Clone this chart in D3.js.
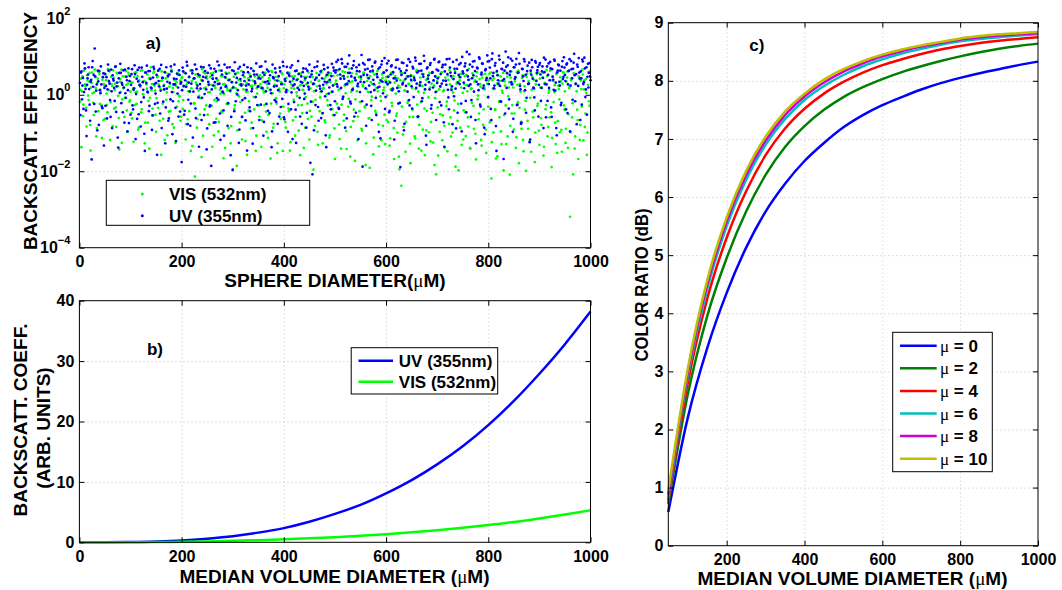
<!DOCTYPE html>
<html>
<head>
<meta charset="utf-8">
<script src="https://cdn.jsdelivr.net/npm/d3@7"></script>
<style>
body { margin: 0; background: #fff; }
svg text { font-family: "Liberation Sans", Arial, sans-serif; font-weight: bold; fill: #000; }
</style>
</head>
<body>
<script>
// ---- panel a) backscatter efficiency of single spheres (log10 values) ----
// even diameters 2..1000 and odd diameters 1..999
const diamEvenA = d3.range(2, 1001, 2);
const diamOddA = d3.range(1, 1000, 2);
const visExpEvenA = [
  0.13,-1.37,0.48,-0.26,0.68,0.22,-0.83,0.37,-0.14,0.57,-1.46,0.31,0.04,-0.53,0.66,0.18,-0.87,0.42,0.59,-0.24,0.07,-1.13,0.46,0.28,-0.63,
  0.38,-0.27,0.67,0.12,-1.18,0.47,0.23,0.64,-0.36,0.29,-0.84,0.56,-0.03,-1.43,0.41,0.66,-0.12,0.17,-0.58,0.48,0.26,-0.97,0.57,-0.18,0.08,
  -0.47,0.32,-1.23,0.57,0.06,-0.24,0.49,-0.86,0.27,0.63,-0.38,0.02,0.36,-1.27,0.58,0.16,-0.73,0.43,-0.08,0.72,0.28,-0.54,0.61,0.11,-0.97,
  0.46,-0.34,0.64,0.18,-1.57,0.37,-0.63,0.26,0.58,-0.13,-1.06,0.47,0.21,-0.43,0.66,-0.77,0.07,0.38,-1.26,0.33,0.57,-0.17,-0.04,-0.68,0.44,
  -0.37,0.21,0.58,-1.17,0.27,-0.64,0.46,0.08,-1.47,0.36,0.63,-0.23,-2.14,0.32,-0.86,0.48,-0.03,-0.52,0.39,0.67,-1.07,0.17,0.56,-0.28,0.42,
  0.06,-0.77,0.47,0.26,-1.36,0.57,-0.14,0.18,-0.63,0.37,-0.96,0.64,0.03,-0.43,0.49,-1.66,0.28,0.58,-0.24,0.12,-0.87,0.39,-1.27,0.16,-1.98,
  0.47,-0.28,0.17,-1.86,0.58,-0.04,-0.73,0.36,-1.17,0.27,0.57,-0.47,0.08,-1.57,0.42,-0.17,0.46,-0.88,0.23,0.63,-0.38,0.27,-1.07,0.03,0.48,
  -0.57,0.28,-1.36,0.46,0.13,-0.27,0.57,-0.97,0.18,-0.53,0.37,-1.67,0.62,0.04,-0.76,0.26,0.47,-0.23,-1.27,0.36,0.08,-0.63,0.56,-1.47,0.17,
  0.37,-0.86,0.07,0.57,-0.43,-1.46,0.28,0.48,-0.67,0.16,-1.07,0.38,-0.03,-0.27,0.56,-1.58,0.26,-0.48,0.12,0.47,-0.86,0.27,-0.23,0.58,-1.17,
  0.17,-0.57,0.46,-1.96,0.28,-0.13,0.57,-0.97,0.36,-0.43,0.08,0.63,-1.27,0.18,-0.67,0.47,0.02,-0.28,0.37,-1.06,0.56,0.07,-0.53,0.26,-1.68,
  0.37,-0.23,0.64,-0.78,0.15,-1.41,0.49,-0.04,-0.52,0.59,-0.95,0.26,-0.31,0.68,-1.62,0.08,0.35,-0.69,0.44,-0.12,0.55,-1.19,0.21,-0.43,0.48,
  -0.89,0.26,0.58,-0.31,-1.84,0.14,0.45,-0.62,-1.91,0.33,-0.05,0.59,-1.12,0.25,-0.48,0.51,0.09,-1.35,0.39,-0.16,0.54,-0.81,0.19,-1.29,0.46,
  -0.02,-0.71,0.35,-1.14,0.58,-0.29,0.15,-1.68,0.49,-0.55,-0.99,0.24,-1.95,0.38,-2.38,0.56,-0.84,0.11,-1.49,0.45,-0.21,0.29,-0.58,-1.79,0.36,
  -0.39,0.48,-1.09,0.15,0.65,-0.59,-1.41,0.28,-0.19,0.55,-0.91,0.05,-1.58,0.39,-0.42,0.49,-0.98,0.19,-0.71,0.58,-1.25,0.24,-0.09,-2.08,0.35,
  -1.59,0.14,-0.51,0.58,-1.19,0.09,-0.81,0.45,-0.29,-1.48,0.39,0.65,-0.59,0.18,-0.99,0.49,-0.15,-1.88,0.29,-0.68,-1.98,0.38,0.55,-1.31,0.05,
  -0.41,0.49,-1.08,0.25,-0.59,0.68,-1.39,0.15,-0.21,0.45,-0.89,0.38,-1.69,0.59,-0.02,-0.49,0.28,-1.18,0.45,-0.79,0.19,0.55,-1.52,0.29,-0.31,
  0.55,-0.69,-2.19,0.38,-0.99,0.15,-0.39,0.59,-1.61,0.25,-0.59,0.48,-1.29,0.05,-1.98,0.35,-0.28,0.58,-1.09,0.19,-2.09,0.45,-0.49,0.28,-0.91,
  0.35,-1.39,0.59,-0.19,-1.79,0.28,-0.71,0.44,-1.18,0.09,-0.39,-1.99,0.55,-0.89,0.29,-0.08,-1.49,0.48,-0.59,0.15,-0.99,0.38,-0.29,0.58,-1.31,
  0.19,-0.79,0.45,-1.59,0.29,-0.38,0.65,-1.09,0.05,-0.59,0.38,-1.89,0.48,-0.19,0.25,-1.29,0.58,-0.69,0.15,-0.98,0.35,-1.49,0.59,-0.28,0.09,
  -0.89,0.45,-1.39,0.18,-3.19,0.38,-0.59,-2.08,0.55,-1.09,0.28,-0.39,-1.68,0.45,-0.79,0.15,0.66,-1.19,0.38,-0.49,0.05,-0.99,0.59,-0.29,0.45
];
const visExpOddA = [
  -0.18,0.42,0.09,-0.56,0.63,0.27,-0.34,0.51,-0.02,0.35,-0.79,0.19,0.58,-0.21,0.06,0.46,-1.09,0.31,-0.43,0.54,0.13,-0.27,0.39,-0.66,0.24,
  0.52,0.03,-0.46,0.37,0.61,-0.19,0.28,-0.82,0.44,0.12,-0.33,0.57,0.22,-0.61,0.34,0.07,-1.26,0.48,0.18,-0.08,0.62,-0.41,0.29,0.51,-0.14,
  0.33,-0.62,0.16,0.47,-0.27,0.59,0.08,-0.91,0.38,0.21,-0.46,0.64,0.01,0.36,-0.73,0.27,0.53,-0.16,-1.41,0.44,0.12,-0.36,0.57,0.24,-0.52,
  -0.09,0.49,0.27,-0.68,0.36,0.61,-0.23,0.14,-1.18,0.43,0.06,0.55,-0.44,0.29,-0.13,0.62,0.18,-0.86,0.41,0.23,-0.31,0.52,-0.03,0.37,-0.57,
  0.46,-0.14,0.58,0.22,-0.77,0.34,0.09,-0.43,0.63,0.17,-1.34,0.41,-0.22,0.53,0.28,-0.64,0.11,0.47,-0.09,-1.63,0.36,0.59,-0.38,0.19,0.48,
  -0.52,0.31,0.07,0.56,-0.29,0.42,-1.06,0.24,0.61,-0.17,0.38,-0.71,0.13,0.49,-0.46,0.27,0.02,-1.39,0.44,0.18,-0.24,0.57,0.09,-0.82,0.33,
  0.21,-0.37,0.53,0.04,-0.93,0.39,0.26,-0.19,0.62,-0.58,0.14,0.46,-1.21,0.31,0.08,-0.41,0.55,0.23,-0.73,0.37,-0.06,0.48,-1.47,0.17,0.42,
  -0.28,0.51,0.19,-0.67,0.34,0.06,0.57,-0.44,0.28,-1.13,0.43,0.12,-0.23,0.59,-0.86,0.21,0.38,-0.09,-1.52,0.46,0.16,-0.49,0.33,0.54,-0.31,
  0.27,-0.71,0.44,0.11,-0.36,0.57,-1.24,0.18,0.36,-0.13,0.49,-0.58,0.06,0.41,-0.94,0.24,0.55,-0.27,0.13,-1.39,0.38,-0.06,0.47,-0.63,0.21,
  -0.42,0.34,0.53,-0.18,0.09,-0.81,0.45,0.22,-1.31,0.37,-0.07,0.58,-0.49,0.16,0.41,-0.72,0.29,-0.14,0.52,-1.12,0.33,0.07,-0.37,0.49,-0.88,
  0.29,-0.47,0.51,0.13,-1.16,0.42,-0.26,0.61,-0.68,0.24,0.04,-1.42,0.47,-0.11,0.33,-0.84,0.56,0.18,-0.39,-1.73,0.38,0.09,-0.57,0.46,-0.19,
  0.41,-0.94,0.22,0.57,-0.33,-1.27,0.36,0.07,-0.61,0.49,-0.14,0.28,-1.56,0.53,-0.42,0.17,0.62,-0.78,0.31,-0.04,-1.19,0.44,0.12,-0.52,0.37,
  -0.66,0.26,0.48,-1.33,0.14,-0.21,0.55,-0.87,0.32,0.03,-0.49,0.43,-1.62,0.19,0.58,-0.31,-1.04,0.37,0.11,-0.71,0.49,-0.16,0.27,-1.28,0.52,
  0.18,-0.58,0.39,-1.14,0.61,-0.26,0.08,-0.79,0.45,-1.46,0.23,0.54,-0.36,0.14,-0.93,0.41,-0.07,0.57,-1.22,0.29,-0.47,0.36,-1.84,0.48,0.09,
  -0.33,0.46,-0.97,0.21,0.59,-0.54,0.12,-1.38,0.38,-0.18,0.51,-0.76,0.27,-1.09,0.44,0.06,-0.41,0.62,-1.58,0.33,-0.24,0.47,-0.86,0.19,0.55,
  -1.17,0.28,-0.46,0.52,0.09,-0.83,0.39,-1.41,0.17,0.56,-0.29,0.34,-1.02,0.48,-0.12,-0.64,0.41,0.21,-1.33,0.53,-0.38,0.14,-0.91,0.45,-0.07,
  0.37,-0.72,0.58,-1.24,0.16,0.43,-0.39,-1.67,0.29,0.52,-0.18,0.36,-0.96,0.11,0.57,-0.53,0.24,-1.29,0.47,-0.04,0.33,-0.81,0.61,-0.27,0.19,
  -0.49,0.44,-1.11,0.26,0.63,-0.34,0.08,-0.89,0.51,-1.48,0.22,-0.16,0.47,-0.68,0.35,-1.21,0.58,0.13,-0.44,0.39,-1.76,0.27,0.54,-0.23,-0.94,
  0.42,-0.61,0.18,0.57,-1.36,0.31,-0.27,0.49,-0.84,0.12,0.63,-0.46,-1.13,0.36,0.07,-0.73,0.54,-1.52,0.24,-0.12,0.46,-0.92,0.29,0.58,-0.39,
  -1.26,0.34,0.61,-0.51,0.19,-0.98,0.43,-0.22,0.56,-1.41,0.27,0.09,-0.66,0.48,-1.18,0.37,-0.31,0.53,0.14,-0.84,0.41,-1.57,0.26,-0.17,0.62
];
const uvExpEvenA = [
  -0.53,0.61,0.24,-0.37,0.82,0.15,-1.08,0.43,0.72,-0.26,0.34,-1.69,0.88,0.52,1.21,-0.44,0.27,0.63,-0.79,0.12,0.74,-0.31,0.46,-1.33,0.55,
  0.23,-0.62,0.79,0.35,-0.14,0.66,-0.87,0.41,0.18,0.73,-0.45,0.32,-1.38,0.57,0.81,-0.22,0.26,0.64,-0.73,0.04,0.47,-0.96,0.69,0.36,-0.52,
  0.54,-0.28,0.13,0.77,-1.16,0.42,0.65,-0.51,0.25,-0.83,0.71,0.33,-0.07,-1.47,0.58,0.76,0.06,-0.43,0.62,0.19,-0.92,0.45,0.68,-0.24,0.31,
  -1.57,0.63,0.22,-0.49,0.78,0.44,-0.18,0.14,-1.27,0.72,0.34,-0.68,0.53,-0.12,0.61,-1.03,0.27,0.79,-0.34,0.41,0.03,-0.57,0.52,0.29,-1.76,
  0.71,0.23,-0.42,0.56,0.86,-0.77,0.32,0.09,-0.23,0.64,-1.12,0.43,0.79,-0.61,0.17,0.54,-1.36,0.28,0.73,-0.08,0.47,-0.53,0.62,0.14,-0.88,
  0.34,0.77,-0.28,-1.86,0.51,0.24,0.68,-0.72,0.43,0.87,-0.13,0.29,-1.18,0.63,0.08,-0.41,0.79,0.21,0.55,-0.81,0.38,0.72,-1.58,0.33,-1.96,
  0.62,0.85,-0.17,0.44,0.12,-1.26,0.73,0.27,-0.58,0.51,0.78,-0.09,0.24,-1.46,0.59,0.38,-0.43,0.69,0.16,-0.87,0.53,0.31,0.82,-0.27,0.22,
  -0.66,0.42,0.74,0.18,-1.07,0.52,0.87,-0.24,0.35,0.61,-0.48,0.13,-1.37,0.79,0.43,-0.14,0.58,0.23,-0.76,0.49,0.71,-0.32,0.28,0.86,-0.59,
  0.41,0.07,0.73,-0.97,0.52,0.34,-0.38,0.77,0.24,-0.19,0.62,-1.26,0.39,0.88,0.13,-0.57,0.48,0.32,0.69,-0.11,0.43,-0.86,0.63,0.21,0.79,
  -1.78,0.53,-2.08,0.29,0.72,-0.27,0.44,0.87,-0.68,0.23,0.61,0.09,-0.48,0.78,0.34,-1.06,0.52,0.71,0.03,0.39,-0.38,0.81,0.24,0.63,-0.17,
  0.64,0.27,0.91,-0.37,0.53,0.18,0.82,-0.06,0.42,-0.86,0.73,0.29,0.57,1.03,-0.18,0.48,0.13,0.77,-0.57,0.38,0.72,0.23,-1.16,0.61,0.34,
  1.04,-1.88,0.52,0.79,0.17,-0.26,0.68,0.43,0.92,0.07,-0.66,0.63,0.28,0.84,-0.08,0.54,0.19,-0.97,0.72,0.37,0.88,0.04,0.58,-0.37,0.33,
  0.82,0.47,-0.46,0.32,0.74,0.12,0.59,-1.17,0.43,0.91,0.18,-0.23,0.68,-1.89,0.52,0.27,0.83,-0.76,0.41,0.64,0.08,0.93,-0.28,0.49,0.22,
  0.73,-0.06,0.38,0.89,0.29,-0.57,0.62,0.24,0.81,-0.17,0.53,1.02,0.14,-1.07,0.69,0.42,0.33,0.78,-0.36,0.57,0.19,0.92,0.48,-0.66,0.31,
  0.63,0.87,0.22,-0.28,0.72,0.37,-1.36,0.79,0.26,0.54,-0.07,0.94,0.58,0.13,-0.77,0.41,0.68,0.16,0.91,-0.47,0.52,0.28,0.83,-0.96,0.61,
  0.32,0.74,-0.16,1.12,0.48,0.23,0.79,-0.58,0.43,0.87,0.08,0.62,-1.27,0.71,0.27,0.98,-0.26,0.53,0.82,0.17,-0.86,0.64,0.38,1.03,-0.06,
  0.88,0.43,-0.66,1.08,0.57,0.24,0.83,-1.47,0.51,0.29,0.92,-0.17,0.68,0.37,-1.68,0.63,1.13,0.18,0.77,-0.36,0.52,0.94,0.27,-0.97,0.72,
  0.42,0.79,-0.27,0.57,1.09,0.23,-0.76,0.68,0.48,0.93,0.12,-0.47,0.62,0.28,0.84,-1.17,0.53,0.72,0.18,-0.07,0.88,0.36,0.64,-0.57,0.78,
  0.53,0.18,0.74,-0.87,0.59,0.92,0.27,-0.16,0.82,0.38,0.69,-0.58,0.47,0.13,0.89,0.32,-1.06,0.63,0.77,0.24,-0.27,0.73,0.41,0.98,0.52,
  -0.38,0.82,0.27,0.63,-0.96,0.88,0.43,0.68,1.07,-0.17,0.54,0.79,0.23,0.58,-0.66,0.43,0.92,0.28,0.97,-0.06,0.72,0.47,0.19,0.83,0.38
];
const uvExpOddA = [
  0.31,0.58,-0.12,0.44,0.07,0.69,-0.41,0.26,0.53,0.15,-0.68,0.39,0.72,0.21,-0.24,0.48,0.11,-0.93,0.35,0.62,0.04,0.27,-0.35,0.56,0.18,
  -0.29,0.46,0.14,0.63,0.29,-0.58,0.09,0.51,0.37,-0.16,0.74,0.22,-1.12,0.43,0.05,0.57,0.31,-0.46,0.19,0.66,-0.08,0.38,0.12,-0.74,0.49,
  0.26,0.67,-0.38,0.17,0.54,0.02,-0.63,0.35,0.71,0.24,-0.19,0.47,0.13,-1.02,0.58,0.31,0.08,0.62,-0.29,0.41,0.17,-0.54,0.73,0.28,0.03,
  0.52,-0.21,0.36,0.68,0.11,-0.87,0.44,0.23,0.59,-0.33,0.16,0.49,-0.62,0.31,0.74,0.07,-0.17,0.42,0.27,-1.21,0.55,0.19,0.64,-0.44,0.33,
  0.12,0.61,-0.52,0.38,0.21,0.76,-0.13,0.47,-0.81,0.29,0.56,0.08,0.43,-0.36,0.67,0.24,-0.07,0.51,0.16,-0.66,0.37,0.72,0.02,0.45,-1.43,
  0.57,0.26,-0.31,0.69,0.14,0.42,-0.73,0.33,0.61,-0.09,0.28,0.77,-0.49,0.18,0.53,0.06,-1.07,0.46,0.23,0.71,-0.22,0.39,0.11,-0.58,0.64,
  0.19,-0.43,0.55,0.32,0.01,0.68,-0.91,0.41,0.24,-0.14,0.59,0.36,-0.67,0.13,0.72,0.27,-0.33,0.48,0.09,-1.28,0.62,0.35,-0.06,0.53,0.21,
  0.44,0.73,-0.26,0.17,0.58,-0.71,0.33,0.09,0.66,-0.42,0.29,0.51,0.04,-0.96,0.46,0.22,0.69,-0.18,0.37,0.12,-0.57,0.61,0.28,-0.11,0.75,
  -0.64,0.36,0.13,0.57,-0.24,0.49,0.71,0.06,-1.16,0.42,0.27,-0.39,0.63,0.18,0.54,-0.08,0.34,-0.76,0.59,0.23,0.03,0.68,-0.47,0.31,0.14,
  0.47,-0.18,0.62,0.28,-0.93,0.39,0.11,0.74,-0.32,0.52,0.16,-0.61,0.43,0.26,0.67,-0.04,-1.37,0.33,0.58,0.19,-0.27,0.49,0.08,0.71,-0.53,
  0.58,0.86,0.21,-0.34,0.67,0.42,0.93,-0.11,0.49,0.73,0.27,-0.62,0.81,0.36,0.57,-0.23,0.69,0.14,0.88,0.44,-0.47,0.62,0.29,0.78,0.07,
  0.47,-0.17,0.83,0.33,0.66,-0.81,0.52,0.91,0.24,0.61,-0.29,0.74,0.39,0.12,0.87,-0.53,0.46,0.68,0.21,-1.14,0.79,0.34,0.58,0.96,-0.06,
  0.64,0.28,0.89,-0.42,0.53,0.77,0.16,0.43,-0.68,0.71,0.37,0.92,0.09,-0.21,0.62,0.84,0.31,-0.93,0.57,0.23,0.76,0.48,-0.14,0.86,0.39,
  -0.36,0.69,0.44,0.97,0.18,0.58,-0.57,0.81,0.33,0.63,-0.09,0.47,0.88,0.26,-1.31,0.72,0.51,0.14,0.83,-0.27,0.59,0.38,0.94,0.07,0.66,
  0.43,0.85,-0.19,0.54,0.29,0.78,-0.72,0.61,0.36,0.93,0.13,-0.38,0.71,0.49,0.22,0.86,-0.04,0.57,-0.88,0.68,0.32,0.79,0.46,-0.23,0.99,
  0.56,0.17,0.82,-0.46,0.64,0.39,1.06,0.27,-0.14,0.73,0.51,0.88,-0.66,0.34,0.69,0.12,0.94,-0.31,0.58,0.81,0.24,-1.03,0.67,0.43,0.87,
  0.28,0.71,-0.37,0.93,0.49,0.17,0.76,-0.82,0.62,0.38,1.02,0.23,-0.18,0.67,0.84,0.41,-0.49,0.73,0.56,0.98,-0.12,0.61,0.33,0.89,-0.63,
  0.72,0.46,0.94,-0.26,0.58,0.81,0.14,-0.73,0.67,0.36,0.87,0.52,-0.08,0.76,0.29,-1.24,0.63,0.91,0.42,0.18,-0.41,0.84,0.57,0.73,0.26,
  0.83,-0.16,0.61,0.44,0.97,0.28,-0.59,0.74,0.52,0.18,0.86,-0.33,0.67,0.39,0.92,0.11,-0.87,0.58,0.79,0.34,0.63,-0.21,0.88,0.47,0.71,
  0.36,0.79,-0.48,0.62,0.93,0.24,0.67,-0.13,0.84,0.51,0.29,-0.77,0.73,0.96,0.42,0.61,-0.26,0.87,0.33,0.69,0.14,-0.52,0.81,0.57,0.48
];

// ---- panel b) backscatter coefficient vs median volume diameter ----
const diamB = [0,50,100,150,200,250,300,350,400,450,500,550,600,650,700,750,800,850,900,950,1000];
const uvB   = [0,0.005,0.04,0.13,0.3,0.6,1.0,1.6,2.35,3.4,4.7,6.2,8.1,10.3,12.9,15.9,19.4,23.4,27.9,32.8,38.2];
const visB  = [0,0.0,0.01,0.03,0.08,0.15,0.24,0.36,0.5,0.66,0.85,1.08,1.35,1.65,2.0,2.4,2.85,3.35,3.95,4.6,5.3];

// ---- panel c) colour ratio (dB) for several mu ----
const diamC = [50,100,150,200,250,300,350,400,450,500,550,600,650,700,750,800,850,900,950,1000];
const muVals = [0, 2, 4, 6, 8, 10];
const ratioMu0  = [0.58,2.2,3.4,4.35,5.13,5.75,6.23,6.62,6.93,7.2,7.41,7.58,7.72,7.85,7.96,8.05,8.13,8.2,8.27,8.33];
const ratioMu2  = [0.72,2.6,3.95,4.95,5.75,6.38,6.86,7.22,7.5,7.72,7.89,8.03,8.15,8.25,8.34,8.42,8.49,8.55,8.6,8.64];
const ratioMu4  = [0.78,2.8,4.25,5.3,6.1,6.72,7.18,7.52,7.78,7.98,8.14,8.27,8.37,8.46,8.54,8.6,8.65,8.69,8.72,8.75];
const ratioMu6  = [0.83,2.92,4.42,5.5,6.3,6.9,7.34,7.67,7.91,8.1,8.25,8.37,8.47,8.55,8.62,8.68,8.72,8.75,8.78,8.8];
const ratioMu8  = [0.88,2.98,4.5,5.58,6.38,6.97,7.41,7.73,7.97,8.16,8.3,8.42,8.51,8.59,8.65,8.71,8.75,8.78,8.8,8.82];
const ratioMu10 = [0.95,3.04,4.57,5.65,6.45,7.04,7.47,7.78,8.02,8.2,8.34,8.45,8.54,8.61,8.67,8.73,8.77,8.8,8.82,8.84];
const muColors = ["#0000ff", "#008000", "#ff0000", "#00bfbf", "#d000d0", "#bfbf00"];

const svg = d3.select("body").append("svg").attr("width", 1062).attr("height", 590);

function grid(g, x, y, xg, yg) {
  const [xl, xr] = x.range(), [yb, yt] = y.range();
  g.append("g").attr("transform", `translate(0,${yb})`)
    .call(d3.axisBottom(x).tickValues(xg).tickSize(yt - yb).tickFormat(""));
  g.append("g").attr("transform", `translate(${xl},0)`)
    .call(d3.axisLeft(y).tickValues(yg).tickSize(xl - xr).tickFormat(""));
  g.selectAll(".domain").remove();
  g.selectAll("line").attr("stroke", "#c4c4c4").attr("stroke-dasharray", "1,3");
}

function frame(g, x, y, xt, yt, yfmt) {
  const [xl, xr] = x.range(), [yb, ytop] = y.range();
  g.append("g").attr("transform", `translate(0,${yb})`)
    .call(d3.axisBottom(x).tickValues(xt).tickSizeInner(-5).tickSizeOuter(0).tickPadding(8).tickFormat(d3.format("d")));
  g.append("g").attr("transform", `translate(0,${ytop})`)
    .call(d3.axisTop(x).tickValues(xt).tickSizeInner(-5).tickSizeOuter(0).tickFormat(""));
  const left = g.append("g").attr("transform", `translate(${xl},0)`)
    .call(d3.axisLeft(y).tickValues(yt).tickSizeInner(-5).tickSizeOuter(0).tickPadding(5).tickFormat(yfmt));
  g.append("g").attr("transform", `translate(${xr},0)`)
    .call(d3.axisRight(y).tickValues(yt).tickSizeInner(-5).tickSizeOuter(0).tickFormat(""));
  g.selectAll(".domain").remove();
  g.selectAll("g").attr("font-size", 16);
  g.selectAll(".tick line").attr("stroke", "#000");
  g.append("rect").attr("x", xl).attr("y", ytop).attr("width", xr - xl).attr("height", yb - ytop)
    .attr("fill", "none").attr("stroke", "#000").attr("stroke-width", 1);
  return left;
}

function muText(sel, before, after) {
  sel.append("tspan").text(before);
  sel.append("tspan").style("font-weight", "normal")
    .style("font-family", "'Liberation Serif', serif").text("\u03bc");
  sel.append("tspan").text(after);
}

// ================= panel a =================
const xA = d3.scaleLinear().domain([0, 1000]).range([79.4, 590.5]);
const yA = d3.scaleLog().domain([1e-4, 1e2]).range([247.7, 18.3]);
const gA = svg.append("g");
grid(gA.append("g"), xA, yA, [200, 400, 600, 800], [1e-2, 1]);

const dotsA = gA.append("g");
function scatter(diams, exps, color) {
  dotsA.append("g").selectAll("circle").data(diams).join("circle")
    .attr("cx", d => xA(d)).attr("cy", (d, i) => yA(Math.pow(10, exps[i])))
    .attr("r", 1.35).attr("fill", color);
}
scatter(diamEvenA, visExpEvenA, "#00ff00");
scatter(diamOddA, visExpOddA, "#00ff00");
scatter(diamEvenA, uvExpEvenA, "#0000ff");
scatter(diamOddA, uvExpOddA, "#0000ff");

const leftA = frame(gA.append("g"), xA, yA, [0, 200, 400, 600, 800, 1000], [1e-4, 1e-2, 1, 1e2], () => "");
leftA.selectAll(".tick text").attr("x", -9).each(function (d) {
  const t = d3.select(this);
  const e = Math.round(Math.log10(d));
  t.append("tspan").text("10");
  t.append("tspan").attr("dy", -9).attr("font-size", 11).text(e < 0 ? "\u2212" + Math.abs(e) : e);
});

const legA = gA.append("g");
legA.append("rect").attr("x", 106.3).attr("y", 180.3).attr("width", 203.4).attr("height", 45)
  .attr("fill", "#fff").attr("stroke", "#000");
[["VIS (532nm)", "#00ff00", 194], ["UV (355nm)", "#0000ff", 215.7]].forEach(([lab, c, ly]) => {
  legA.append("circle").attr("cx", 142.3).attr("cy", ly).attr("r", 1.5).attr("fill", c);
  legA.append("text").attr("x", 169).attr("y", ly).attr("dy", "0.36em").attr("font-size", 17).text(lab);
});
gA.append("text").attr("x", 145.7).attr("y", 49).attr("font-size", 17).text("a)");
gA.append("text").attr("transform", "translate(36.5,131) rotate(-90)").attr("text-anchor", "middle")
  .attr("font-size", 19).text("BACKSCATT. EFFICIENCY");
muText(gA.append("text").attr("x", 335).attr("y", 287).attr("text-anchor", "middle").attr("font-size", 19),
  "SPHERE DIAMETER(", "M)");

// ================= panel b =================
const xB = d3.scaleLinear().domain([0, 1000]).range([79.4, 590.5]);
const yB = d3.scaleLinear().domain([0, 40]).range([542.3, 300.7]);
const gB = svg.append("g");
grid(gB.append("g"), xB, yB, [200, 400, 600, 800], [10, 20, 30]);
const lineB = vals => d3.line().x(d => xB(d)).y((d, i) => yB(vals[i])).curve(d3.curveMonotoneX)(diamB);
gB.append("path").attr("d", lineB(uvB)).attr("fill", "none").attr("stroke", "#0000ff").attr("stroke-width", 2.5);
gB.append("path").attr("d", lineB(visB)).attr("fill", "none").attr("stroke", "#00ff00").attr("stroke-width", 2.5);
frame(gB.append("g"), xB, yB, [0, 200, 400, 600, 800, 1000], [0, 10, 20, 30, 40], d3.format("d"));

const legB = gB.append("g");
legB.append("rect").attr("x", 351.2).attr("y", 347.7).attr("width", 146.5).attr("height", 46.3)
  .attr("fill", "#fff").attr("stroke", "#000");
[["UV (355nm)", "#0000ff", 360.7], ["VIS (532nm)", "#00ff00", 381.7]].forEach(([lab, c, ly]) => {
  legB.append("line").attr("x1", 358.5).attr("x2", 393).attr("y1", ly).attr("y2", ly)
    .attr("stroke", c).attr("stroke-width", 2.5);
  legB.append("text").attr("x", 398.8).attr("y", ly).attr("dy", "0.36em").attr("font-size", 17).text(lab);
});
gB.append("text").attr("x", 146.9).attr("y", 355).attr("font-size", 17).text("b)");
gB.append("text").attr("transform", "translate(27,420) rotate(-90)").attr("text-anchor", "middle")
  .attr("font-size", 19).text("BACKSCATT. COEFF.");
gB.append("text").attr("transform", "translate(49.5,428) rotate(-90)").attr("text-anchor", "middle")
  .attr("font-size", 19).text("(ARB. UNITS)");
muText(gB.append("text").attr("x", 334.5).attr("y", 583).attr("text-anchor", "middle").attr("font-size", 19),
  "MEDIAN VOLUME DIAMETER (", "M)");

// ================= panel c =================
const xC = d3.scaleLinear().domain([50, 1000]).range([668.3, 1038]);
const yC = d3.scaleLinear().domain([0, 9]).range([545.7, 22.7]);
const gC = svg.append("g");
grid(gC.append("g"), xC, yC, [200, 400, 600, 800], [1, 2, 3, 4, 5, 6, 7, 8]);
const ratiosC = [ratioMu0, ratioMu2, ratioMu4, ratioMu6, ratioMu8, ratioMu10];
const lineC = vals => d3.line().x(d => xC(d)).y((d, i) => yC(vals[i])).curve(d3.curveMonotoneX)(diamC);
ratiosC.forEach((vals, k) => {
  gC.append("path").attr("d", lineC(vals)).attr("fill", "none")
    .attr("stroke", muColors[k]).attr("stroke-width", 2.5);
});
frame(gC.append("g"), xC, yC, [200, 400, 600, 800, 1000], [0, 1, 2, 3, 4, 5, 6, 7, 8, 9], d3.format("d"));

const legC = gC.append("g");
legC.append("rect").attr("x", 892.7).attr("y", 332.3).attr("width", 99.6).attr("height", 139.4)
  .attr("fill", "#fff").attr("stroke", "#000");
muVals.forEach((m, k) => {
  const ly = 345.7 + 22.6 * k;
  legC.append("line").attr("x1", 900).attr("x2", 936.7).attr("y1", ly).attr("y2", ly)
    .attr("stroke", muColors[k]).attr("stroke-width", 2.5);
  muText(legC.append("text").attr("x", 940).attr("y", ly).attr("dy", "0.36em").attr("font-size", 17), "", " = " + m);
});
gC.append("text").attr("x", 749.3).attr("y", 51).attr("font-size", 17).text("c)");
gC.append("text").attr("transform", "translate(648,285) rotate(-90)").attr("text-anchor", "middle")
  .attr("font-size", 18).attr("textLength", 153).attr("lengthAdjust", "spacingAndGlyphs")
  .text("COLOR RATIO (dB)");
muText(gC.append("text").attr("x", 852.5).attr("y", 585).attr("text-anchor", "middle").attr("font-size", 19),
  "MEDIAN VOLUME DIAMETER (", "M)");
</script>
</body>
</html>
